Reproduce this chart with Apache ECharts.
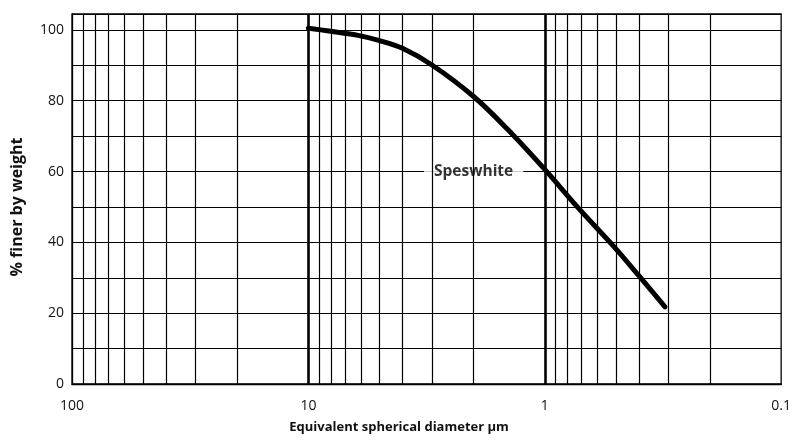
<!DOCTYPE html>
<html>
<head>
<meta charset="utf-8">
<script src="https://cdn.jsdelivr.net/npm/echarts@6/dist/echarts.min.js"></script>
<style>
html,body{margin:0;padding:0;background:#fff;}
#chart{width:794px;height:445px;}
</style>
</head>
<body>
<div id="chart"></div>
<script>
// Particle size distribution (Speswhite kaolin)
const diameters = [10, 8.2, 6.1, 5, 4, 3, 2, 1.43, 1, 0.73, 0.51, 0.4, 0.31];
const percentFiner = [100.5, 99.7, 98.4, 97.0, 94.8, 90.1, 81.2, 71.8, 60.6, 50.1, 38.8, 30.6, 21.8];
const majorGrid = [10, 1];
const minorGrid = [90, 80, 70, 60, 50, 40, 30, 20, 9, 8, 7, 6, 5, 4, 3, 2, 0.9, 0.8, 0.7, 0.6, 0.5, 0.4, 0.3, 0.2];
const xTickLabels = [100, 10, 1, 0.1];
const yTickLabels = [0, 20, 40, 60, 80, 100];
const seriesLabel = 'Speswhite';
const labelPos = [2, 60];

const curve = diameters.map((d, i) => [d, percentFiner[i]]);
const font = '"Open Sans", "Noto Sans", sans-serif';
const gridColor = '#000';

const chart = echarts.init(document.getElementById('chart'));
chart.setOption({
  animation: false,
  backgroundColor: '#fff',
  grid: { left: 72, right: 9, top: 14, bottom: 61, show: true, borderColor: gridColor, borderWidth: 1.3, backgroundColor: 'transparent' },
  xAxis: {
    type: 'log', logBase: 10, min: 0.1, max: 100, inverse: true,
    name: 'Equivalent spherical diameter µm', nameLocation: 'middle', nameGap: 37,
    nameTextStyle: { fontFamily: font, fontWeight: 'bold', fontSize: 13, color: '#111', padding: [0, 55, 0, 0] },
    axisLine: { show: true, lineStyle: { color: gridColor, width: 1.3 } },
    axisTick: { show: false },
    splitLine: { show: false },
    axisLabel: {
      margin: 15, fontFamily: font, fontSize: 14, color: '#111',
      formatter: v => xTickLabels.some(t => Math.abs(t - v) < 1e-9) ? String(v) : ''
    }
  },
  yAxis: {
    type: 'value', min: 0, max: 104.5, interval: 10,
    name: '% finer by weight', nameLocation: 'middle', nameGap: 47,
    nameTextStyle: { fontFamily: font, fontWeight: 'bold', fontSize: 16, color: '#111', padding: [0, 0, 0, -16] },
    axisLine: { show: true, lineStyle: { color: gridColor, width: 1.3 } },
    axisTick: { show: false },
    splitLine: { show: true, lineStyle: { color: gridColor, width: 1.2 } },
    axisLabel: {
      margin: 8, fontFamily: font, fontSize: 14, color: '#111',
      formatter: v => yTickLabels.indexOf(v) >= 0 ? String(v) : ''
    }
  },
  series: [
    {
      type: 'line', z: 1, data: curve, showSymbol: false, silent: true,
      lineStyle: { opacity: 0 },
      markLine: {
        silent: true, symbol: 'none', label: { show: false }, animation: false,
        data: minorGrid.map(v => ({ xAxis: v, lineStyle: { color: gridColor, width: 1.2, type: 'solid' } }))
          .concat(majorGrid.map(v => ({ xAxis: v, lineStyle: { color: '#000', width: 2.6, type: 'solid' } })))
      }
    },
    {
      type: 'line', z: 3, data: curve, smooth: 0.35, showSymbol: false, silent: true,
      lineStyle: { color: '#000', width: 5, cap: 'round', join: 'round' }
    },
    {
      type: 'scatter', z: 4, data: [labelPos], symbolSize: 0, silent: true,
      label: {
        show: true, position: 'inside', formatter: seriesLabel,
        fontFamily: font, fontWeight: 'bold', fontSize: 15.5, color: '#000',
        backgroundColor: '#fff', padding: [8, 10, 8, 10]
      }
    }
  ]
});
</script>
</body>
</html>
